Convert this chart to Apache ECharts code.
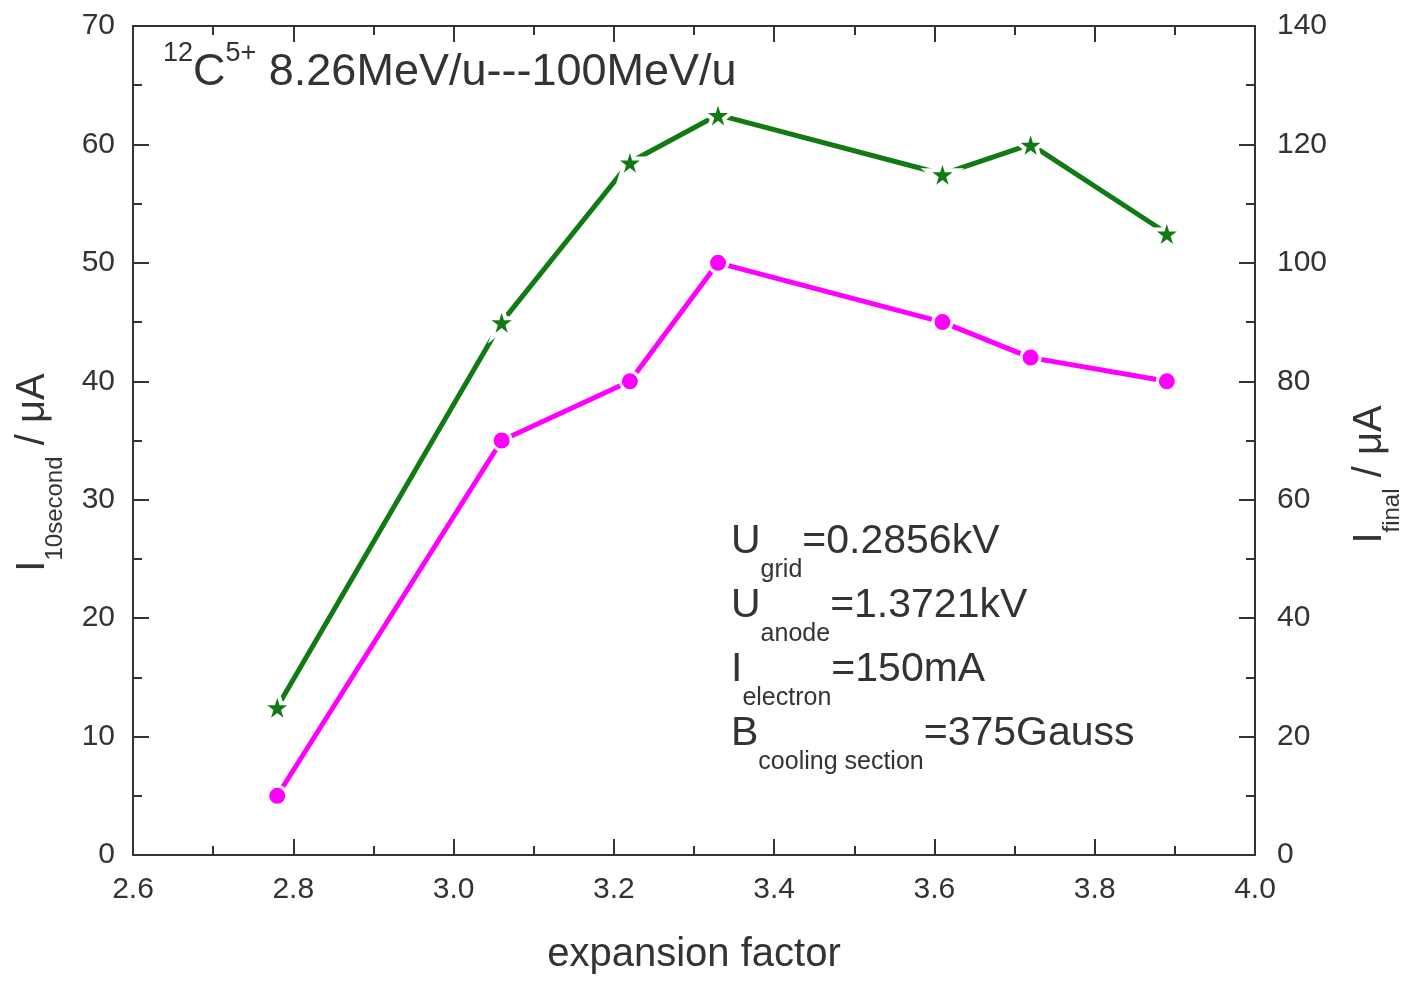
<!DOCTYPE html>
<html><head><meta charset="utf-8">
<script src="https://cdn.jsdelivr.net/npm/echarts@6/dist/echarts.min.js"></script>
<style>html,body{margin:0;padding:0;background:#fff;overflow:hidden}#c{width:1412px;height:981px}</style>
</head><body><div id="c"></div>
<script>
// Data
const expansionFactor = [2.78, 3.06, 3.22, 3.33, 3.61, 3.72, 3.89];
const i10second = [12.5, 45, 58.5, 62.5, 57.5, 60, 52.5];   // left axis (green stars)
const iFinal = [10, 70, 80, 100, 90, 84, 80];               // right axis (magenta circles)
const xTicks = { min: 2.6, max: 4.0, interval: 0.2 };
const yLeftTicks = { min: 0, max: 70, interval: 10 };
const yRightTicks = { min: 0, max: 140, interval: 20 };
const paramLines = [
  ['U', 'grid', '=0.2856kV'],
  ['U', 'anode', '=1.3721kV'],
  ['I', 'electron', '=150mA'],
  ['B', 'cooling section', '=375Gauss']
];

const FONT = '"Liberation Sans", Arial, sans-serif';
const AX = '#333333';
const STAR = 'path://M50,0 L61.2,34.5 L97.6,34.5 L68.2,55.9 L79.4,90.5 L50,69.1 L20.6,90.5 L31.8,55.9 L2.4,34.5 L38.8,34.5 Z';

const chart = echarts.init(document.getElementById('c'), null, { renderer: 'canvas', width: 1412, height: 981 });

const axisCommon = {
  axisLine: { show: true, onZero: false, lineStyle: { color: AX, width: 2 } },
  axisTick: { show: true, inside: true, length: 16, lineStyle: { color: AX, width: 2 } },
  minorTick: { show: true, splitNumber: 2, length: 9, lineStyle: { color: AX, width: 2 } },
  splitLine: { show: false },
  axisLabel: { color: AX, fontSize: 30, fontFamily: FONT }
};

const mainRich = () => ({
  m: { fontSize: 40, fontFamily: FONT, color: AX, lineHeight: 44, verticalAlign: 'top' },
  s: { fontSize: 24, fontFamily: FONT, color: AX, lineHeight: 26, verticalAlign: 'top', padding: [30, 0, 0, 0] }
});

const paramRich = {
  m: { fontSize: 41, fontFamily: FONT, fill: AX, color: AX, lineHeight: 44, verticalAlign: 'top' },
  s: { fontSize: 25, fontFamily: FONT, fill: AX, color: AX, lineHeight: 27, verticalAlign: 'top', padding: [37, 0, 0, 0] }
};

const graphics = [
  {
    type: 'text', left: 163, top: 40, z: 10,
    style: {
      text: '{p|12}{b|C}{p|5+}{b| 8.26MeV/u---100MeV/u}',
      rich: {
        p: { fontSize: 27, fontFamily: FONT, fill: AX, color: AX, lineHeight: 28, verticalAlign: 'top' },
        b: { fontSize: 45, fontFamily: FONT, fill: AX, color: AX, lineHeight: 48, verticalAlign: 'top', padding: [10, 0, 0, 0] }
      }
    }
  }
].concat(paramLines.map((ln, i) => ({
  type: 'text', left: 731, top: 521 + i * 64, z: 10,
  style: { text: '{m|' + ln[0] + '}{s|' + ln[1] + '}{m|' + ln[2] + '}', rich: paramRich }
})));

const option = {
  backgroundColor: '#ffffff',
  animation: false,
  grid: { left: 133, right: 150, top: 26, bottom: 126, containLabel: false },
  xAxis: [
    Object.assign({}, axisCommon, {
      type: 'value', position: 'bottom', min: xTicks.min, max: xTicks.max, interval: xTicks.interval,
      axisLabel: Object.assign({}, axisCommon.axisLabel, { margin: 20, formatter: v => v.toFixed(1) }),
      name: 'expansion factor', nameLocation: 'middle', nameGap: 80,
      nameTextStyle: { fontSize: 40, fontFamily: FONT, color: AX }
    }),
    Object.assign({}, axisCommon, {
      type: 'value', position: 'top', min: xTicks.min, max: xTicks.max, interval: xTicks.interval,
      axisLabel: { show: false }
    })
  ],
  yAxis: [
    Object.assign({}, axisCommon, {
      type: 'value', position: 'left', min: yLeftTicks.min, max: yLeftTicks.max, interval: yLeftTicks.interval,
      axisLabel: Object.assign({}, axisCommon.axisLabel, { margin: 18 }),
      name: '{m|I}{s|10second}{m| / μA}', nameLocation: 'middle', nameRotate: 90, nameGap: 76,
      nameTextStyle: { rich: mainRich(), padding: [0, 64, 0, 0] }
    }),
    Object.assign({}, axisCommon, {
      type: 'value', position: 'right', min: yRightTicks.min, max: yRightTicks.max, interval: yRightTicks.interval,
      axisLabel: Object.assign({}, axisCommon.axisLabel, { margin: 22 }),
      name: '{m|I}{s|final}{m| / μA}', nameLocation: 'middle', nameRotate: 90, nameGap: 95,
      nameTextStyle: { rich: mainRich(), padding: [0, 68, 0, 0] }
    })
  ],
  series: [
    {
      type: 'line', xAxisIndex: 0, yAxisIndex: 0,
      data: expansionFactor.map((x, i) => [x, i10second[i]]),
      symbol: STAR, symbolSize: 32, showAllSymbol: true,
      lineStyle: { color: '#127a12', width: 5 },
      itemStyle: { color: '#127a12', borderColor: '#ffffff', borderWidth: 4 },
      z: 3
    },
    {
      type: 'line', xAxisIndex: 0, yAxisIndex: 1,
      data: expansionFactor.map((x, i) => [x, iFinal[i]]),
      symbol: 'circle', symbolSize: 19, showAllSymbol: true,
      lineStyle: { color: '#ff00ff', width: 5 },
      itemStyle: { color: '#ff00ff', borderColor: '#ffffff', borderWidth: 3 },
      z: 2
    }
  ],
  graphic: graphics
};
chart.setOption(option);
</script>
</body></html>
